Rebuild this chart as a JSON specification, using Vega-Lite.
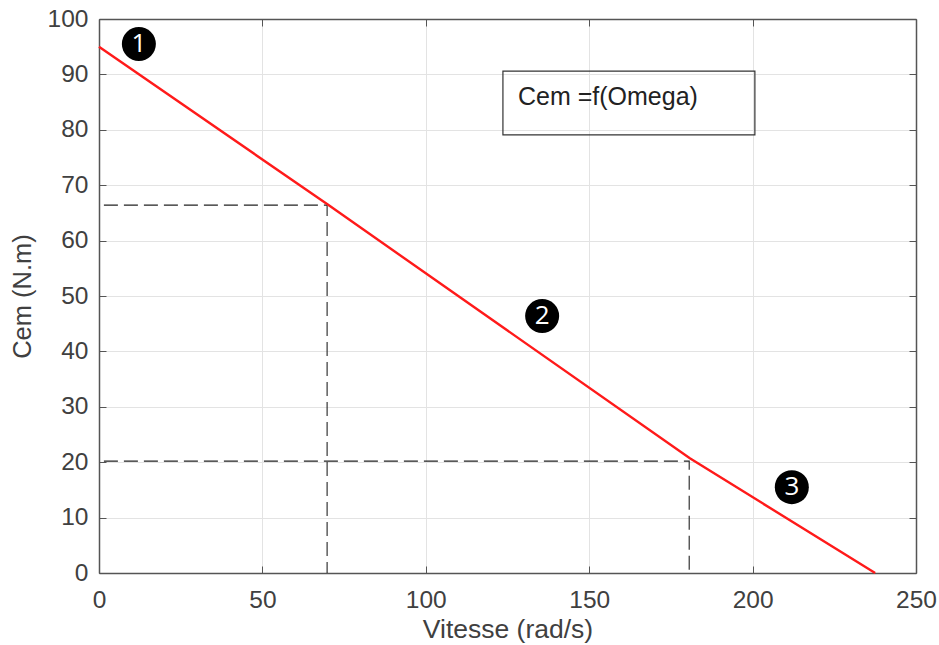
{"$schema":"https://vega.github.io/schema/vega-lite/v6.json","width":817,"height":554,"autosize":"none","padding":{"left":99,"top":19,"right":23,"bottom":72},"background":"white","view":{"stroke":null},"config":{"font":"Liberation Sans"},"datasets":{"curve":[{"omega":0,"cem":95},{"omega":70,"cem":66.5},{"omega":180.8,"cem":20.7},{"omega":237.5,"cem":0}],"marks":[{"id":"1","omega":12.2,"cem":95.5},{"id":"2","omega":135.6,"cem":46.4},{"id":"3","omega":212,"cem":15.5}],"guides":[{"g":"a","omega":1.5,"cem":66.4,"o":1},{"g":"a","omega":69.8,"cem":66.4,"o":2},{"g":"a","omega":69.8,"cem":0,"o":3},{"g":"b","omega":1.5,"cem":20.2,"o":1},{"g":"b","omega":180.6,"cem":20.2,"o":2},{"g":"b","omega":180.6,"cem":0,"o":3}],"box":[{"x1":123.6,"x2":200.7,"y1":79.1,"y2":90.6,"label":"Cem =f(Omega)","tx":128.2,"ty":85.9}]},"layer":[{"data":{"name":"curve"},"mark":{"type":"line","opacity":0},"encoding":{"x":{"field":"omega","type":"quantitative","scale":{"domain":[0,250],"nice":false},"axis":{"orient":"bottom","title":"Vitesse (rad/s)","titleFont":"Liberation Sans","titleFontSize":26.5,"titleFontWeight":"normal","titleColor":"#404040","titlePadding":5,"values":[0,50,100,150,200,250],"labelFontSize":24.5,"labelColor":"#404040","labelPadding":22,"labelFlush":false,"tickColor":"#555555","tickSize":-7,"domainColor":"#555555","domainWidth":1.5,"grid":true,"gridColor":"#e3e3e3","gridWidth":1}},"y":{"field":"cem","type":"quantitative","scale":{"domain":[0,100],"nice":false},"axis":{"orient":"left","title":"Cem (N.m)","titleFont":"Liberation Sans","titleFontSize":25.5,"titleFontWeight":"normal","titleColor":"#404040","titlePadding":12,"values":[0,10,20,30,40,50,60,70,80,90,100],"labelFontSize":24.5,"labelColor":"#404040","labelPadding":18,"tickColor":"#555555","tickSize":-7,"domainColor":"#555555","domainWidth":1.5,"grid":true,"gridColor":"#e3e3e3","gridWidth":1}}}},{"data":{"name":"curve"},"mark":{"type":"line","opacity":0},"encoding":{"x":{"field":"omega","type":"quantitative","axis":{"orient":"top","title":null,"values":[0,50,100,150,200,250],"labels":false,"tickColor":"#555555","tickSize":-7,"domainColor":"#555555","domainWidth":1.5,"grid":false}},"y":{"field":"cem","type":"quantitative","axis":{"orient":"right","title":null,"values":[0,10,20,30,40,50,60,70,80,90,100],"labels":false,"tickColor":"#555555","tickSize":-7,"domainColor":"#555555","domainWidth":1.5,"grid":false}}}},{"data":{"name":"guides"},"mark":{"type":"line","color":"#222222","strokeWidth":1.1,"strokeDash":[14,6],"clip":false},"encoding":{"x":{"field":"omega","type":"quantitative","axis":null},"y":{"field":"cem","type":"quantitative","axis":null},"detail":{"field":"g"},"order":{"field":"o"}}},{"data":{"name":"curve"},"mark":{"type":"line","color":"#ff1a1a","strokeWidth":2.4},"encoding":{"x":{"field":"omega","type":"quantitative","axis":null},"y":{"field":"cem","type":"quantitative","axis":null}}},{"data":{"name":"box"},"mark":{"type":"rect","fillOpacity":0,"stroke":"#333333","strokeWidth":1.2},"encoding":{"x":{"field":"x1","type":"quantitative","axis":null},"x2":{"field":"x2"},"y":{"field":"y1","type":"quantitative","axis":null},"y2":{"field":"y2"}}},{"data":{"name":"box"},"mark":{"type":"text","align":"left","baseline":"middle","font":"Liberation Sans","fontSize":25,"color":"#222222"},"encoding":{"x":{"field":"tx","type":"quantitative","axis":null},"y":{"field":"ty","type":"quantitative","axis":null},"text":{"field":"label"}}},{"data":{"name":"marks"},"mark":{"type":"point","shape":"circle","filled":true,"color":"#000000","opacity":1,"size":1156},"encoding":{"x":{"field":"omega","type":"quantitative","axis":null},"y":{"field":"cem","type":"quantitative","axis":null}}},{"data":{"name":"marks"},"mark":{"type":"text","font":"Open Sans","fontSize":26,"color":"white","align":"center","baseline":"middle"},"encoding":{"x":{"field":"omega","type":"quantitative","axis":null},"y":{"field":"cem","type":"quantitative","axis":null},"text":{"field":"id"}}}],"resolve":{"axis":{"x":"independent","y":"independent"}}}
